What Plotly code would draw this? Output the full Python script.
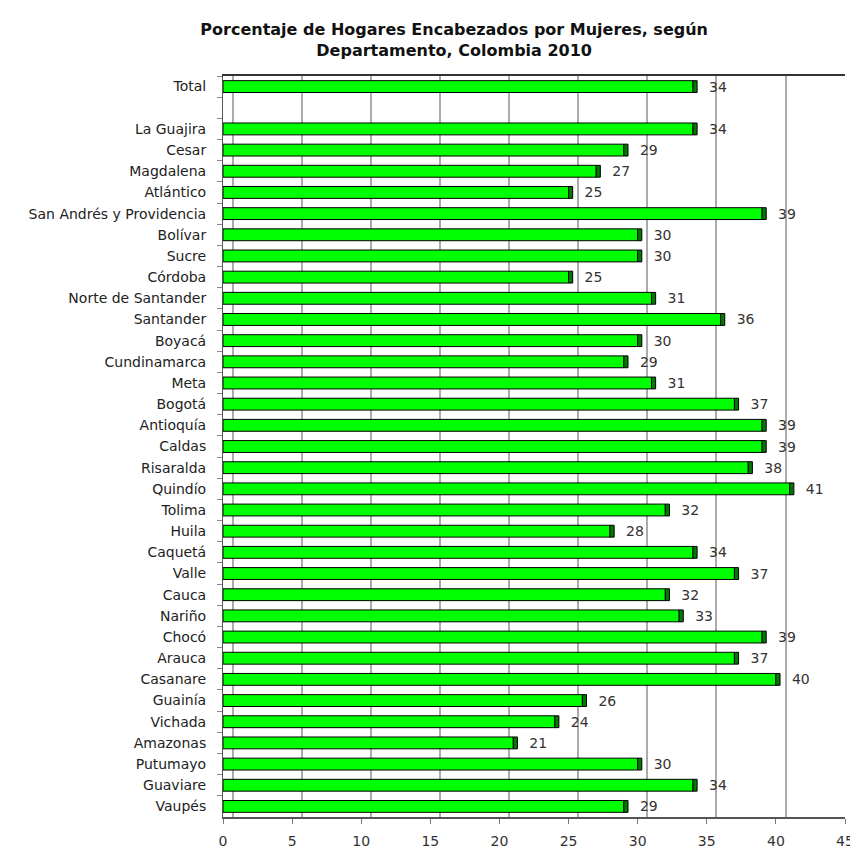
import plotly.graph_objects as go

categories = ["Total", " ", "La Guajira", "Cesar", "Magdalena", "Atlántico",
              "San Andrés y Providencia", "Bolívar", "Sucre", "Córdoba",
              "Norte de Santander", "Santander", "Boyacá", "Cundinamarca", "Meta",
              "Bogotá", "Antioquía", "Caldas", "Risaralda", "Quindío", "Tolima",
              "Huila", "Caquetá", "Valle", "Cauca", "Nariño", "Chocó", "Arauca",
              "Casanare", "Guainía", "Vichada", "Amazonas", "Putumayo", "Guaviare",
              "Vaupés"]
values = [34, None, 34, 29, 27, 25, 39, 30, 30, 25, 31, 36, 30, 29, 31, 37, 39, 39,
          38, 41, 32, 28, 34, 37, 32, 33, 39, 37, 40, 26, 24, 21, 30, 34, 29]
x_ticks = [0, 5, 10, 15, 20, 25, 30, 35, 40, 45]

labels = ["" if v is None else str(v) for v in values]
cap_w = [None if v is None else 0.3 for v in values]

FONT = "DejaVu Sans"

fig = go.Figure()
fig.add_trace(go.Bar(
    y=categories, x=values, orientation="h",
    marker=dict(color="#00FF00", line=dict(color="#000000", width=1)),
    hoverinfo="x+y", showlegend=False,
))
fig.add_trace(go.Bar(
    y=categories, x=cap_w, base=values, orientation="h",
    marker=dict(color="#007A00", line=dict(color="#000000", width=1)),
    text=labels, texttemplate="  %{text}", textposition="outside",
    constraintext="none",
    textfont=dict(family=FONT, size=14, color="#333333"),
    cliponaxis=False, hoverinfo="skip", showlegend=False,
))
fig.add_trace(go.Scatter(x=[None], y=[None], xaxis="x2", showlegend=False,
                         hoverinfo="skip"))

fig.update_layout(
    width=858, height=854,
    margin=dict(l=215, r=13, t=68, b=45),
    paper_bgcolor="white", plot_bgcolor="white",
    barmode="overlay", bargap=0.44,
    title=dict(
        text="Porcentaje de Hogares Encabezados por Mujeres, según<br>Departamento, Colombia 2010",
        font=dict(family=FONT, size=16, color="#111111", weight="bold"),
        x=0.52, xref="container", xanchor="center",
        y=1 - 27 / 854, yref="container", yanchor="top",
        pad=dict(t=0, b=0),
    ),
    xaxis=dict(
        range=[0, 45], tickvals=x_ticks, ticktext=[str(t) for t in x_ticks],
        showgrid=False, zeroline=False,
        showline=True, linecolor="#555555", linewidth=2,
        ticks="outside", ticklen=5, tickcolor="#777777",
        tickfont=dict(family=FONT, size=14, color="#333333"),
        ticklabeloverflow="allow", ticklabelstandoff=5,
    ),
    xaxis2=dict(
        overlaying="x", side="top", range=[-0.7, 44.3],
        tickvals=x_ticks, showticklabels=False, ticks="",
        showgrid=True, gridcolor="#ababab", gridwidth=1.5,
        zeroline=False, showline=True, linecolor="#333333", linewidth=2,
    ),
    yaxis=dict(
        categoryorder="array", categoryarray=categories,
        range=[34.5, -0.5], showgrid=False, zeroline=False,
        showline=True, linecolor="#555555", linewidth=1,
        ticks="outside", tickson="boundaries", ticklen=5, tickcolor="#888888",
        tickfont=dict(family=FONT, size=14, color="#222222"),
        ticklabelstandoff=13,
    ),
)

fig.write_html("out.html")
